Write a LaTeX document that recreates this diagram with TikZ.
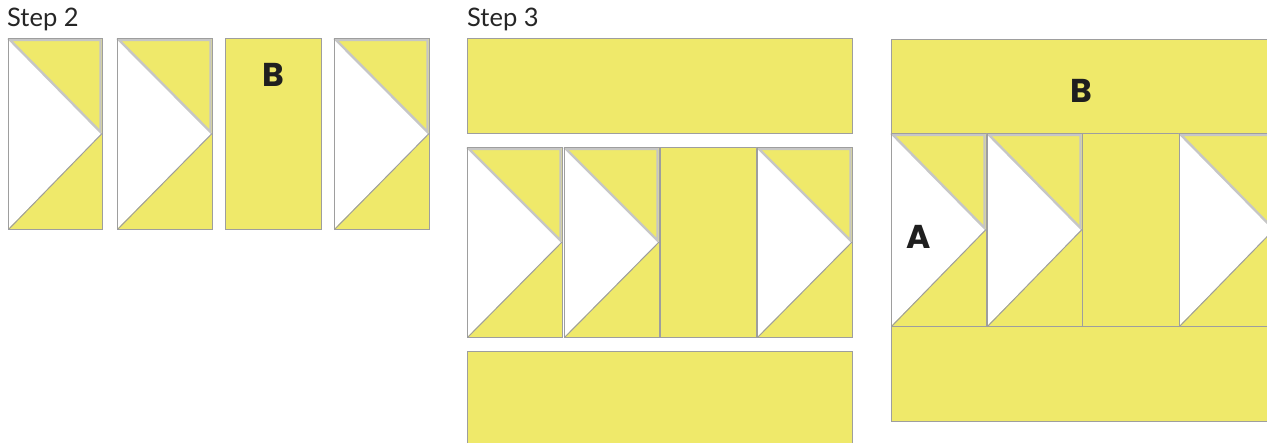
\documentclass[tikz,border=0pt]{standalone}
\usepackage{fontspec}
\setmainfont{Lato}
\newfontfamily\labfont{Poppins}[BoldFont={* Bold}]
\definecolor{quiltyellow}{RGB}{239,233,106}
\definecolor{seamdark}{RGB}{158,158,158}
\definecolor{seamlight}{RGB}{198,198,198}
\tikzset{
  patch/.style={fill=quiltyellow, draw=seamdark, line width=1pt},
  upperseam/.style={draw=seamlight, line width=2.4pt, line join=miter},
  lowerseam/.style={draw=seamdark, line width=1pt},
  steplabel/.style={anchor=base west, inner sep=0pt, font=\fontsize{25.5}{25.5}\selectfont, text=black!85},
  piecelabel/.style={inner sep=0pt, font=\labfont\bfseries\fontsize{33}{33}\selectfont, text=black!88},
}
% flying-geese unit: #1,#2 = left/top, #3,#4 = right/bottom
\newcommand\geeseunit[4]{%
  \pgfmathsetmacro\gym{(#2+#4)/2}%
  \fill[quiltyellow] (#1,#2) rectangle (#3,#4);
  \fill[white] (#1,#2) -- (#3,\gym) -- (#1,#4) -- cycle;
  \draw[upperseam] (#1+2,#2+2) -- (#3-1.5,#2+2) -- (#3-1.5,\gym-1.5) -- cycle;
  \draw[lowerseam] (#3,\gym) -- (#1+1,#4);
  \draw[seamdark, line width=1pt] (#1,#2) rectangle (#3,#4);
}
\begin{document}
\begin{tikzpicture}[x=1pt,y=-1pt]
\clip (0,0) rectangle (1267,442);
\fill[white] (0,0) rectangle (1267,442);

% ---------- Step 2 ----------
\node[steplabel] (s2) at (7,26) {Step 2};
\geeseunit{8}{38}{102}{229}
\geeseunit{117}{38}{212}{229}
\draw[patch] (225,38) rectangle (321,229);
\node[piecelabel] (b1) at (273,75) {B};
\geeseunit{334}{38}{429}{229}

% ---------- Step 3 ----------
\node[steplabel] (s3) at (467,26) {Step 3};
\draw[patch] (467,38) rectangle (852,133);
\geeseunit{467}{147}{562}{337}
\geeseunit{564}{147}{659}{337}
\draw[patch] (660,147) rectangle (756,337);
\geeseunit{757}{147}{852}{337}
\draw[patch] (467,351) rectangle (852,446);

% ---------- Assembled block ----------
\draw[patch] (891,39) rectangle (1300,133);
\node[piecelabel] (b2) at (1081.5,91) {B};
\geeseunit{891}{133}{986}{326}
\geeseunit{987}{133}{1082}{326}
\draw[patch] (1082,133) rectangle (1179,326);
\geeseunit{1179}{133}{1274}{326}
\draw[patch] (891,326) rectangle (1300,421);
\node[piecelabel] (a1) at (919,237) {A};
\end{tikzpicture}
\end{document}
